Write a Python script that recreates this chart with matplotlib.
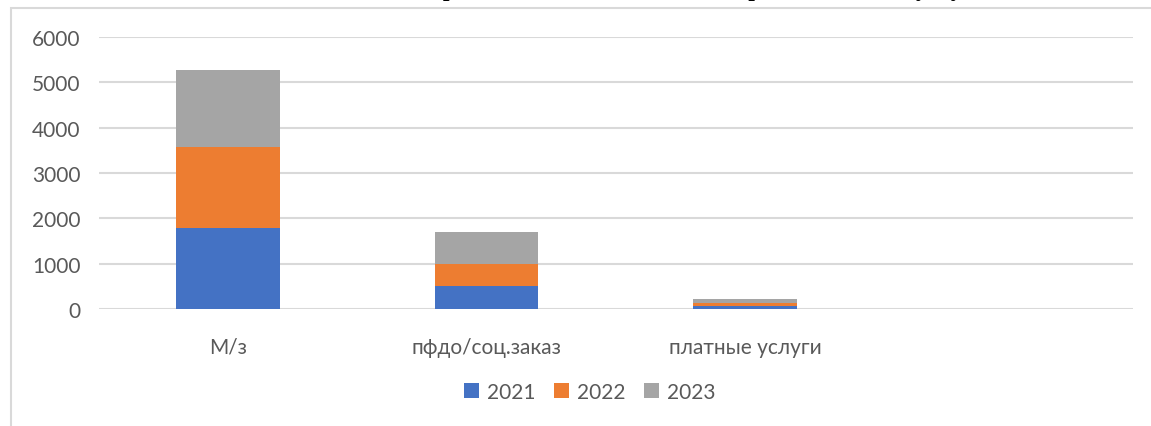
import numpy as np
import matplotlib.pyplot as plt
from matplotlib.patches import Rectangle

# data
categories = ["М/з", "пфдо/соц.заказ", "платные услуги", ""]
years = ["2021", "2022", "2023"]
v2021 = [1780, 500, 60, 0]
v2022 = [1790, 490, 70, 0]
v2023 = [1700, 710, 80, 0]
colors = ["#4472c4", "#ed7d31", "#a5a5a5"]

plt.rcParams['font.family'] = ['Lato', 'DejaVu Sans']
txt = "#595959"

fig = plt.figure(figsize=(11.51, 4.27), dpi=100)
ax = fig.add_axes([98.75 / 1151, 1 - 310 / 427, 1034 / 1151, 272 / 427])

x = np.arange(len(categories))
bottom = np.zeros(len(categories))
for vals, year, c in zip([v2021, v2022, v2023], years, colors):
    ax.bar(x, vals, 0.4, bottom=bottom, color=c, label=year, zorder=3)
    bottom += np.array(vals)

ax.set_xlim(-0.5, len(categories) - 0.5)
ax.set_ylim(0, 6000)
ax.set_yticks(np.arange(0, 6001, 1000))
ax.set_xticks(x)
ax.set_xticklabels(categories)
ax.yaxis.grid(True, color="#d9d9d9", linewidth=1.5, zorder=0)
ax.tick_params(axis='both', length=0, labelsize=15, colors=txt)
ax.tick_params(axis='y', pad=13)
ax.tick_params(axis='x', pad=20)
for s in ax.spines.values():
    s.set_visible(False)

fig.legend(loc='center', bbox_to_anchor=(590 / 1151, 1 - 393 / 427), ncol=3,
           frameon=False, fontsize=15, labelcolor=txt, handlelength=0.7,
           handleheight=0.7, columnspacing=0.9, handletextpad=0.4)

# chart border (partly outside the picture)
fig.patches.append(Rectangle((11 / 1151, -0.1), 1.2, 1 - 8.5 / 427 + 0.1,
                             transform=fig.transFigure, fill=False,
                             edgecolor="#d9d9d9", linewidth=1.5))

# title is cut off by the top edge in the original
fig.text(560 / 1151, 1 + 4 / 427,
         "Количество детей по договорам об оказании платных образовательных услуг",
         ha='center', va='baseline', fontsize=17, fontweight='bold',
         family=['Liberation Serif'], color='black')

fig.savefig("out.png", dpi=100)
